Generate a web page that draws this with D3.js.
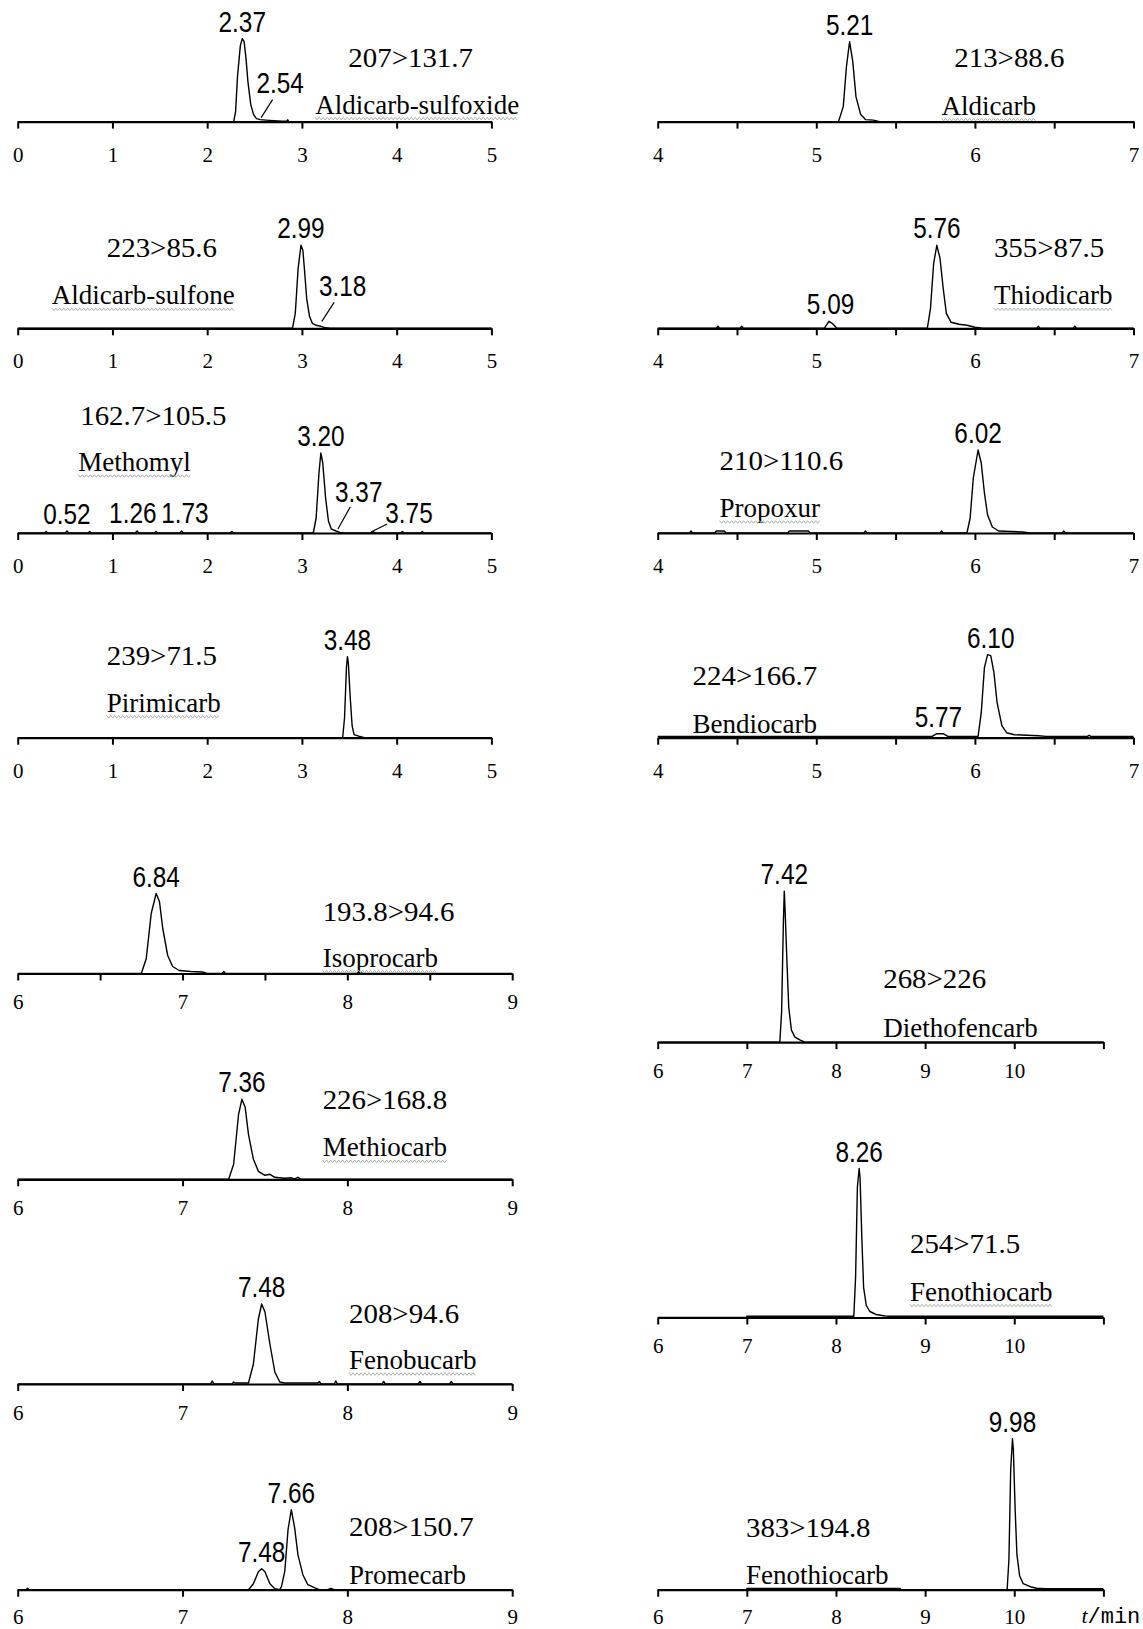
<!DOCTYPE html>
<html><head><meta charset="utf-8">
<script src="https://cdn.jsdelivr.net/npm/d3@7"></script>
<style>
body{margin:0;background:#fff;}
svg{display:block;background:#fff;}
</style></head><body>
<svg id="chart" width="1143" height="1629"></svg>
<script>
// ---------------- DATA ----------------
const compoundNames = ["Aldicarb-sulfoxide","Aldicarb-sulfone","Methomyl","Pirimicarb",
  "Isoprocarb","Methiocarb","Fenobucarb","Promecarb",
  "Aldicarb","Thiodicarb","Propoxur","Bendiocarb",
  "Diethofencarb","Fenothiocarb","Fenothiocarb"];
const transitions = ["207>131.7","223>85.6","162.7>105.5","239>71.5",
  "193.8>94.6","226>168.8","208>94.6","208>150.7",
  "213>88.6","355>87.5","210>110.6","224>166.7",
  "268>226","254>71.5","383>194.8"];
const timeDomains = [[0,5],[0,5],[0,5],[0,5],[6,9],[6,9],[6,9],[6,9],
  [4,7],[4,7],[4,7],[4,7],[6,11],[6,11],[6,11]];
const tickSets = [
  [0,1,2,3,4,5],[0,1,2,3,4,5],[0,1,2,3,4,5],[0,1,2,3,4,5],
  [6,6.5,7,7.5,8,8.5,9],[6,7,8,9],[6,7,8,9],[6,7,8,9],
  [4,4.5,5,5.5,6,6.5,7],[4,4.5,5,5.5,6,6.5,7],[4,4.5,5,5.5,6,6.5,7],[4,4.5,5,5.5,6,6.5,7],
  [6,7,8,9,10,11],[6,7,8,9,10,11],[6,7,8,9,10,11]];
const tickLabelSets = [
  ["0","1","2","3","4","5"],["0","1","2","3","4","5"],["0","1","2","3","4","5"],["0","1","2","3","4","5"],
  ["6","","7","","8","","9"],["6","7","8","9"],["6","7","8","9"],["6","7","8","9"],
  ["4","","5","","6","","7"],["4","","5","","6","","7"],["4","","5","","6","","7"],["4","","5","","6","","7"],
  ["6","7","8","9","10",""],["6","7","8","9","10",""],["6","7","8","9","10",""]];
// retention-time labels of each trace
const peakLabels = [
  ["2.37","2.54"],["2.99","3.18"],["3.20","3.37","3.75","0.52","1.26","1.73"],["3.48"],
  ["6.84"],["7.36"],["7.48"],["7.66","7.48"],
  ["5.21"],["5.76","5.09"],["6.02"],["6.10","5.77"],
  ["7.42"],["8.26"],["9.98"]];
// traces: [time (min), relative intensity]
const traceAldicarbSulfoxide = [[0,0],[2.28,0],[2.30,10],[2.32,45],[2.35,76],[2.37,83],[2.39,80],[2.41,63],[2.43,40],[2.46,17],[2.49,7],[2.52,3],[2.56,2],[2.62,1.5],[2.70,1],[2.80,0.5],[2.84,0.5],[2.85,1.8],[2.86,0],[5,0]];
const traceAldicarbSulfone = [[0,0],[2.90,0],[2.93,15],[2.96,60],[2.99,83],[3.01,78],[3.03,55],[3.05,30],[3.08,12],[3.11,5],[3.15,3],[3.20,2],[3.25,0.5],[3.30,0],[5,0]];
const traceMethomyl = [[0,0],[0.28,0],[0.30,1.5],[0.32,0],[0.50,0],[0.52,2],[0.54,0],[0.74,0],[0.76,1.5],[0.78,0],[1.24,0],[1.26,2],[1.28,0],[1.44,0],[1.46,1.5],[1.48,0],[1.71,0],[1.73,2],[1.75,0],[2.24,0],[2.26,1.5],[2.28,0],[3.12,0],[3.15,15],[3.18,60],[3.20,80],[3.22,70],[3.25,35],[3.28,12],[3.31,4],[3.36,2],[3.40,0.5],[3.45,0],[3.72,0],[3.75,1.2],[3.78,0],[4.04,0],[4.06,1.5],[4.08,0],[4.25,0],[4.27,1.5],[4.29,0],[5,0]];
const tracePirimicarb = [[0,0],[3.43,0],[3.45,20],[3.47,70],[3.48,81],[3.49,75],[3.51,40],[3.53,12],[3.55,3],[3.60,1.5],[3.66,0],[5,0]];
const traceIsoprocarb = [[6,0],[6.75,0],[6.78,15],[6.81,60],[6.84,80],[6.86,72],[6.88,45],[6.91,18],[6.94,7],[6.98,3],[7.05,2],[7.12,1.5],[7.15,0],[7.24,0],[7.25,2],[7.26,0],[8.06,0],[8.07,2],[8.08,0],[9,0]];
const traceMethiocarb = [[6,0],[7.28,0],[7.31,15],[7.34,65],[7.36,80],[7.38,72],[7.40,45],[7.43,20],[7.46,8],[7.50,4],[7.53,5],[7.56,2],[7.62,1],[7.66,1.5],[7.68,0.5],[7.70,2],[7.72,0],[9,0]];
const traceFenobucarb = [[6,0],[7.17,0],[7.18,3],[7.19,0],[7.30,0],[7.31,2],[7.32,1],[7.40,1],[7.43,20],[7.46,65],[7.48,80],[7.50,72],[7.53,40],[7.56,12],[7.59,2],[7.62,1],[7.82,1],[7.83,2.5],[7.84,0],[7.92,0],[7.93,3],[7.94,0],[8.21,0],[8.22,2.5],[8.23,0],[8.43,0],[8.44,2.5],[8.45,0],[8.62,0],[8.63,2.5],[8.64,0],[9,0]];
const tracePromecarb = [[6,0],[6.05,0],[6.06,1.5],[6.07,0],[7.40,0],[7.43,6],[7.46,18],[7.48,21],[7.50,18],[7.53,6],[7.56,1],[7.59,0],[7.60,3],[7.62,18],[7.64,60],[7.66,80],[7.68,62],[7.70,35],[7.73,15],[7.76,5],[7.80,2],[7.83,0],[7.88,0],[7.90,1.2],[7.92,0],[9,0]];
const traceAldicarb = [[4,0],[5.14,0],[5.17,15],[5.19,55],[5.21,80],[5.23,60],[5.25,25],[5.28,7],[5.31,2],[5.36,1.5],[5.40,0],[7,0]];
const traceThiodicarb = [[4,0],[4.37,0],[4.38,2],[4.39,0],[4.52,0],[4.53,2],[4.54,0],[5.05,0],[5.08,7],[5.10,5],[5.13,0],[5.70,0],[5.72,20],[5.74,65],[5.76,83],[5.78,70],[5.80,40],[5.82,15],[5.85,6],[5.90,4],[5.95,3],[6.00,1],[6.05,0],[6.39,0],[6.40,2],[6.41,0],[6.62,0],[6.63,2],[6.64,0],[7,0]];
const tracePropoxur = [[4,0],[4.20,0],[4.21,2],[4.22,0],[4.36,0],[4.37,2],[4.42,2],[4.43,0],[4.82,0],[4.83,2],[4.95,2],[4.96,0],[5.30,0],[5.31,2],[5.32,0],[5.78,0],[5.79,2],[5.80,0],[5.95,0],[5.97,15],[5.99,55],[6.02,83],[6.04,70],[6.06,40],[6.08,18],[6.11,6],[6.15,2],[6.30,1],[6.35,0],[6.55,0],[6.56,2],[6.57,0],[7,0]];
const traceBendiocarb = [[4,1.3],[5.73,1.3],[5.76,4],[5.80,4],[5.83,1.3],[6.02,1.3],[6.04,25],[6.06,70],[6.08,83],[6.10,82],[6.12,65],[6.14,35],[6.17,12],[6.20,5],[6.25,3],[6.40,2],[6.45,1.3],[6.71,1.3],[6.72,2.5],[6.73,1.3],[7,1.3]];
const traceDiethofencarb = [[6,0],[7.37,0],[7.39,30],[7.41,120],[7.42,151],[7.43,130],[7.45,80],[7.47,35],[7.50,12],[7.54,5],[7.60,2],[7.65,0],[11,0]];
const traceFenothiocarb1 = [[6,0],[7.0,0],[7.0,1.2],[8.20,1.2],[8.22,40],[8.24,130],[8.26,149],[8.27,140],[8.29,80],[8.31,30],[8.34,12],[8.38,6],[8.45,3],[8.55,1.5],[8.60,1.2],[11,1.2]];
const traceFenothiocarb2 = [[6,0],[7.0,0],[7.0,1.2],[8.72,1.2],[8.73,0],[9.92,0],[9.94,30],[9.96,120],[9.98,151],[9.99,140],[10.01,80],[10.03,35],[10.06,14],[10.10,6],[10.18,3],[10.25,1.5],[10.35,1],[11,1]];
const traces = [traceAldicarbSulfoxide,traceAldicarbSulfone,traceMethomyl,tracePirimicarb,
  traceIsoprocarb,traceMethiocarb,traceFenobucarb,tracePromecarb,
  traceAldicarb,traceThiodicarb,tracePropoxur,traceBendiocarb,
  traceDiethofencarb,traceFenothiocarb1,traceFenothiocarb2];
const axisTitle = "/min";

// ---------------- LAYOUT ----------------
const L = {x0:17.7, x05:491.4, x69:512.2};
const R = {x0:657.7, x47:1133.5, x611:1103.4};
const layout = [
  {xr:[L.x0,L.x05], base:121.6, tx:3.49, tdy:-55, nx:3.14, ndy:-8, lab:39, sq:true},
  {xr:[L.x0,L.x05], base:328.3, tx:0.94, tdy:-71, nx:0.36, ndy:-24, lab:39, sq:true},
  {xr:[L.x0,L.x05], base:533.0, tx:0.66, tdy:-108, nx:0.64, ndy:-62, lab:39, sq:true},
  {xr:[L.x0,L.x05], base:737.7, tx:0.94, tdy:-73, nx:0.94, ndy:-26, lab:39, sq:true},
  {xr:[L.x0,L.x69], base:973.5, tx:7.85, tdy:-53, nx:7.85, ndy:-7, lab:35, sq:true},
  {xr:[L.x0,L.x69], base:1179.3, tx:7.85, tdy:-70, nx:7.85, ndy:-23, lab:35, sq:true},
  {xr:[L.x0,L.x69], base:1384.0, tx:8.01, tdy:-61, nx:8.01, ndy:-15, lab:35, sq:true},
  {xr:[L.x0,L.x69], base:1589.7, tx:8.01, tdy:-54, nx:8.01, ndy:-6, lab:33, sq:false},
  {xr:[R.x0,R.x47], base:121.6, tx:5.87, tdy:-55, nx:5.79, ndy:-7, lab:39, sq:true},
  {xr:[R.x0,R.x47], base:328.3, tx:6.12, tdy:-71, nx:6.12, ndy:-24, lab:39, sq:true},
  {xr:[R.x0,R.x47], base:533.0, tx:4.39, tdy:-63, nx:4.39, ndy:-16, lab:39, sq:true},
  {xr:[R.x0,R.x47], base:737.7, tx:4.22, tdy:-53, nx:4.22, ndy:-5, lab:39, sq:false},
  {xr:[R.x0,R.x611], base:1042.1, tx:8.53, tdy:-54, nx:8.53, ndy:-5, lab:35, sq:false},
  {xr:[R.x0,R.x611], base:1317.5, tx:8.83, tdy:-65, nx:8.83, ndy:-17, lab:35, sq:true},
  {xr:[R.x0,R.x611], base:1589.7, tx:6.99, tdy:-53, nx:6.99, ndy:-6, lab:33, sq:false}
];
const labelPlace = {
  "0-1": {lt:2.77, lh:29, leader:[2.57,4,2.69,22]},
  "1-1": {lt:3.43, lh:32, leader:[3.21,7,3.34,26]},
  "2-1": {lt:3.60, lh:31, leader:[3.38,4,3.51,26]},
  "2-2": {lt:4.13, lh:10, leader:[3.73,1,3.90,9]},
  "2-4": {lt:1.215, lh:10},
  "2-5": {lt:1.765, lh:10}
};

const FONT_SERIF = "'Liberation Serif','Times New Roman',serif";
const FONT_SANS = "'Liberation Sans',Arial,sans-serif";

const svg = d3.select("#chart");

function stretch(sel, factor) {
  const w = sel.node().getComputedTextLength();
  sel.attr("textLength", w * factor).attr("lengthAdjust", "spacingAndGlyphs");
}

traces.forEach((tr, i) => {
  const lay = layout[i];
  const x = d3.scaleLinear().domain(timeDomains[i]).range(lay.xr);
  const y = d3.scaleLinear().domain([0, 100]).range([lay.base, lay.base - 100]);
  const g = svg.append("g");

  const labs = tickLabelSets[i];
  const axis = d3.axisBottom(x).tickValues(tickSets[i]).tickSize(7).tickSizeOuter(0)
    .tickPadding(lay.lab - 7 - 14).tickFormat((d, k) => labs[k]);
  const ag = g.append("g").attr("transform", `translate(0,${lay.base})`).call(axis);
  ag.select(".domain").attr("stroke", "#000").attr("stroke-width", 2.2);
  ag.selectAll(".tick line").attr("stroke", "#000").attr("stroke-width", 2);
  ag.selectAll(".tick text").attr("fill", "#000")
    .style("font-family", FONT_SERIF).style("font-size", "21px");

  const line = d3.line().x(d => x(d[0])).y(d => y(d[1]));
  g.append("path").datum(tr).attr("d", line)
    .attr("fill", "none").attr("stroke", "#000").attr("stroke-width", 1.4)
    .attr("stroke-linejoin", "round");

  peakLabels[i].forEach((txt, k) => {
    const rt = +txt;
    const key = i + "-" + k;
    let lx, ly;
    if (labelPlace[key]) {
      const pl = labelPlace[key];
      lx = x(pl.lt); ly = y(pl.lh);
      const ld = pl.leader;
      if (ld) {
        g.append("line").attr("x1", x(ld[0])).attr("y1", y(ld[1]))
          .attr("x2", x(ld[2])).attr("y2", y(ld[3]))
          .attr("stroke", "#000").attr("stroke-width", 1.2);
      }
    } else {
      const near = tr.filter(d => Math.abs(d[0] - rt) <= 0.04);
      const top = d3.max(near, d => d[1]) || 0;
      lx = x(rt); ly = y(top) - 7;
    }
    const t = g.append("text").attr("x", lx).attr("y", ly).attr("text-anchor", "middle")
      .style("font-family", FONT_SANS).style("font-size", "29px").text(txt);
    stretch(t, 0.84);
  });

  const tt = g.append("text").attr("x", x(lay.tx)).attr("y", lay.base + lay.tdy)
    .style("font-family", FONT_SERIF).style("font-size", "27px").text(transitions[i]);
  stretch(tt, 1.07);
  const nm = g.append("text").attr("x", x(lay.nx)).attr("y", lay.base + lay.ndy)
    .style("font-family", FONT_SERIF).style("font-size", "27px").text(compoundNames[i]);
  if (lay.sq) {
    const bb = nm.node().getBBox();
    const pts = [];
    const yy = lay.base + lay.ndy + 5;
    for (let xx = bb.x, k = 0; xx <= bb.x + bb.width; xx += 2, k++) pts.push([xx, yy + (k % 2 ? 1.3 : -1.3)]);
    g.append("path").attr("d", d3.line()(pts)).attr("fill", "none")
      .attr("stroke", "#a9b1a9").attr("stroke-width", 1);
  }
  if (i === traces.length - 1) {
    const t = g.append("text").attr("x", x(11) - 22).attr("y", lay.base + 33)
      .style("font-size", "22px");
    t.append("tspan").style("font-family", FONT_SERIF).style("font-style", "italic").text("t");
    t.append("tspan").style("font-family", "'Liberation Mono','Courier New',monospace").text(axisTitle);
  }
});
</script>
</body></html>
